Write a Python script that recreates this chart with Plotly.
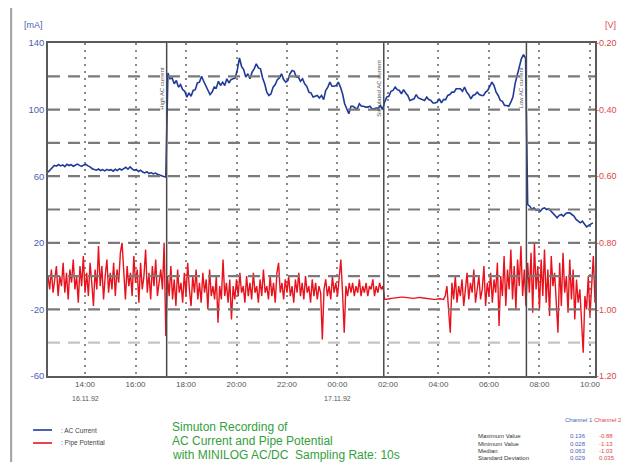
import pandas as pd
import plotly.graph_objects as go

# ---------------- data ----------------
ac_start = "1992-11-16 12:32"   # AC current samples every 5 min
ac_current = [
    62.4, 64.0, 65.5, 66.5, 66.0, 67.0, 66.2, 66.8, 65.8, 67.2,
    66.4, 66.9, 66.0, 66.6, 67.3, 66.5, 65.9, 66.8, 67.1, 66.2,
    65.6, 64.5, 64.2, 63.6, 64.3, 63.4, 64.0, 63.2, 64.1, 63.5,
    63.9, 63.0, 64.2, 63.4, 64.5, 63.7, 64.6, 65.4, 64.2, 65.6,
    64.4, 63.5, 64.1, 62.8, 63.6, 62.5, 62.0, 62.7, 61.6, 62.2,
    61.4, 61.9, 61.2, 60.6, 60.2, 59.8, 59.5,
    122, 118.5, 119, 115.5, 117.5, 113.5, 115, 112, 111, 107.5,
    110, 108, 111.5, 112, 116, 116.5, 120, 117, 114.5, 111.5,
    109, 110.5, 113.5, 113, 117, 114.5, 116.5, 114.5, 118.5, 116,
    118, 118.5, 119, 124, 131, 126, 124, 119.5, 121.5, 118.5,
    122.5, 124.5, 127.5, 125, 124.5, 119, 115.5, 110.5, 108.5, 109.5,
    113.5, 115, 118, 119, 121.5, 118, 116.5, 117.5, 121.5, 123.5,
    123, 119.5, 119.5, 117, 118.5, 115.5, 114, 110.5, 110, 107.5,
    108, 108.5, 107, 108.5, 106, 111.5, 113.5, 116.5, 114, 114,
    114.5, 116.5, 113.5, 109.5, 103.5, 100.5, 97.5, 102, 102, 101,
    100.5, 103.5, 102, 102, 101.5, 101.5, 102, 100.5, 100.5, 101,
    101, 102.5, 100,
    104.5, 107.5, 108, 111, 111.5, 113.5, 112, 111.5, 109.5, 112,
    110, 108.5, 105.5, 106, 106.5, 109, 107, 106.5, 106, 105.5,
    107.5, 106, 105.5, 104, 104, 104.5, 106.5, 104, 106, 106,
    108.5, 109, 110.5, 110.5, 112.5, 112.5, 112.5, 111, 113.5, 110.5,
    109, 106.5, 108.5, 109, 110.5, 109, 108.5, 108.5, 110.5, 111.5,
    114.5, 116.5, 114.5, 110.5, 108.5, 105.5, 105, 102.5, 102.5, 102,
    104.5, 107.5, 115.5, 120.5, 125.5, 130.5, 133,
    131, 43, 42, 40, 41, 39.5, 40, 39, 40.5, 41,
    40, 40.5, 39, 37.5, 36, 35, 36.5, 37, 36, 37.5,
    38, 38, 37, 36, 34, 33, 32, 33, 31, 29.5,
    30.5, 31.5, 32,
]

pp_start = "1992-11-16 12:32"   # pipe potential samples every 4 min
pipe_potential = [
    -0.90, -0.94, -0.88, -0.95, -0.91, -0.87, -0.96, -0.90, -0.93, -0.86,
    -0.95, -0.89, -0.97, -0.88, -0.92, -0.85, -0.94, -0.90, -0.98, -0.87,
    -0.93, -0.84, -0.95, -0.89, -0.96, -0.86, -0.92, -0.99, -0.88, -0.94,
    -0.81, -0.93, -0.87, -0.97, -0.90, -0.85, -0.95, -0.89, -0.94, -0.86,
    -0.96, -0.88, -0.92, -0.83, -0.80, -0.90, -0.97, -0.87, -0.93, -0.89,
    -0.96, -0.84, -0.92, -0.88, -0.98, -0.86, -0.94, -0.90, -0.82, -0.95,
    -0.89, -0.97, -0.87, -0.93, -0.85, -0.96, -0.91, -0.88, -0.94, -0.80,
    -1.08, -0.90, -0.96, -0.87, -0.97, -0.91, -0.99, -0.88, -0.95, -0.92,
    -0.98, -0.89, -0.96, -0.86, -0.94, -0.99, -0.90, -0.95, -0.88, -0.97,
    -0.92, -0.98, -0.89, -0.95, -0.91, -1.00, -0.88, -0.96, -0.93, -0.97,
    -0.90, -1.04, -0.93, -0.97, -0.85, -0.96, -0.92, -0.98, -0.91, -1.03,
    -0.93, -0.97, -0.91, -0.96, -0.89, -0.95, -0.93, -0.98, -0.90, -0.96,
    -0.92, -0.97, -0.89, -0.95, -0.93, -0.98, -0.91, -0.96, -0.88, -0.95,
    -0.93, -0.97, -0.90, -0.96, -0.92, -0.98, -0.89, -0.86, -0.95, -0.92,
    -0.97, -0.91, -0.95, -0.90, -0.96, -0.93, -0.98, -0.91, -0.95, -0.89,
    -0.96, -0.92, -0.97, -0.90, -0.95, -0.93, -0.98, -0.91, -0.96, -0.92,
    -0.97, -0.93, -0.95, -1.09, -0.94, -0.91, -0.96, -0.93, -0.97, -0.90,
    -0.95, -0.92, -0.96, -0.89, -0.85, -0.95, -1.07, -0.93, -0.96, -0.92,
    -0.95, -0.92, -0.96, -0.93, -0.95, -0.91, -0.96, -0.93, -0.95, -0.92,
    -0.96, -0.93, -0.94, -0.91, -0.96, -0.93, -0.95, -0.92, -0.94, -0.93,
    -0.970, -0.970, -0.968, -0.968, -0.967, -0.966, -0.965, -0.964, -0.964, -0.963,
    -0.963, -0.963, -0.964, -0.965, -0.966, -0.966, -0.967, -0.967, -0.966, -0.965,
    -0.964, -0.964, -0.965, -0.966, -0.967, -0.968, -0.968, -0.969, -0.969, -0.970,
    -0.970, -0.969, -0.968, -0.968, -0.969, -0.970,
    -0.96, -0.93, -1.00, -1.07, -0.92, -0.97, -0.90, -0.98, -0.93, -0.96,
    -0.91, -0.99, -0.94, -0.89, -0.97, -0.92, -0.95, -0.88, -0.98, -0.93,
    -0.90, -0.97, -0.94, -0.87, -0.99, -0.92, -0.96, -0.89, -0.98, -0.91,
    -0.95, -0.86, -1.05, -0.90, -0.96, -0.84, -0.99, -0.88, -0.94, -0.82,
    -0.97, -0.87, -1.00, -0.85, -0.93, -0.81, -0.96, -0.88,
    -0.99, -0.86, -0.95, -0.83, -1.01, -0.80, -0.94, -0.87, -1.00, -0.85,
    -0.96, -0.82, -0.98, -0.88, -1.02, -0.84, -0.93, -0.89, -0.97, -1.07,
    -0.86, -0.99, -0.83, -0.95, -0.90, -1.01, -0.85, -0.97, -0.88, -1.03,
    -0.91, -0.98, -0.94, -1.04, -1.13, -0.96, -1.00, -0.90, -1.02, -0.93,
    -0.84, -0.98,
]

event_times = ["1992-11-16 17:14", "1992-11-17 01:50", "1992-11-17 07:29"]
event_labels = ["High AC current", "Simulated AC current", "Low AC current"]

x_range = ["1992-11-16 12:32", "1992-11-17 10:12"]
x_tick_times = ["1992-11-16 14:00", "1992-11-16 16:00", "1992-11-16 18:00",
                "1992-11-16 20:00", "1992-11-16 22:00", "1992-11-17 00:00",
                "1992-11-17 02:00", "1992-11-17 04:00", "1992-11-17 06:00",
                "1992-11-17 08:00", "1992-11-17 10:00"]
x_tick_text = ["14:00", "16:00", "18:00", "20:00", "22:00", "00:00",
               "02:00", "04:00", "06:00", "08:00", "10:00"]
date_times = ["1992-11-16 14:00", "1992-11-17 00:00"]
date_labels = ["16.11.92", "17.11.92"]

y_left_ticks = [-60, -20, 20, 60, 100, 140]
y_left_text = ["-60", "-20", "20", "60", "100", "140"]
y_grid_vals = [-40, -20, 0, 20, 40, 60, 80, 100, 120]
y_right_ticks = [-1.2, -1.0, -0.8, -0.6, -0.4, -0.2]
y_right_text = ["-1.20", "-1.00", "-0.80", "-0.60", "-0.40", "-0.20"]

stat_names = ["Maximum Value", "Minimum Value", "Median", "Standard Deviation"]
stat_ch1 = ["0.136", "0.028", "0.063", "0.029"]
stat_ch2 = ["-0.88", "-1.13", "-1.03", "0.035"]

title_lines = ["Simuton Recording of", "AC Current and Pipe Potential",
               "with MINILOG AC/DC  Sampling Rate: 10s"]

# ---------------- figure ----------------
BLUE = "#1f3a98"
RED = "#e8121c"
OFF = 8                      # page body margin of the browser
W, H = 629 - OFF, 462 - OFF
PL, PR, PT, PB = 48, 597, 43, 376     # plot box in screen pixels
pw, ph = PR - PL, PB - PT


def px(xp):
    return (xp - PL) / pw


def py(yp):
    return (PB - yp) / ph


ac_times = pd.date_range(ac_start, periods=len(ac_current), freq="5min")
pp_times = pd.date_range(pp_start, periods=len(pipe_potential), freq="4min")

fig = go.Figure()
fig.add_trace(go.Scatter(x=pp_times, y=pipe_potential, mode="lines", yaxis="y2",
                         name=": Pipe Potential", line=dict(color=RED, width=1.4)))
fig.add_trace(go.Scatter(x=ac_times, y=ac_current, mode="lines", yaxis="y",
                         name=": AC Current", line=dict(color=BLUE, width=1.6)))

shapes = []
annotations = []


def note(x, y, text, size, color, xanchor="center", yanchor="middle", **kw):
    annotations.append(dict(x=x, y=y, xref=kw.pop("xref", "paper"), yref="paper",
                            text=text, showarrow=False, xanchor=xanchor,
                            yanchor=yanchor, font=dict(size=size, color=color), **kw))


# dashed horizontal grid, drawn over the traces as in the original print-out
for v in y_grid_vals:
    shapes.append(dict(type="line", xref="paper", yref="y", x0=0, x1=1, y0=v, y1=v,
                       line=dict(color="#c4c4c4" if v == -40 else "#7a7a7a",
                                 width=2.2, dash="12px,8px"),
                       layer="above"))

for t, lab in zip(event_times, event_labels):
    shapes.append(dict(type="line", xref="x", yref="paper", x0=t, x1=t, y0=0, y1=1,
                       line=dict(color="#4a4a4a", width=1.5), layer="above"))
    note(t, py(88), lab, 6, "#555555", xref="x", xshift=-5, textangle=-90)

for t, lab in zip(date_times, date_labels):
    note(t, py(398), lab, 7, "#555555", xref="x")

# outer frame
shapes.append(dict(type="rect", xref="paper", yref="paper", x0=px(11), x1=px(660),
                   y0=py(520), y1=py(6), line=dict(color="#a0a0a0", width=2),
                   layer="below"))

# axis unit labels
note(px(33), py(25), "[mA]", 9, "#4a5fb5")
note(px(613), py(25), "[V]", 9, "#e04848")

# legend (drawn)
for yy, col, name in [(430, BLUE, ": AC Current"), (443, RED, ": Pipe Potential")]:
    shapes.append(dict(type="line", xref="paper", yref="paper", x0=px(33), x1=px(52),
                       y0=py(yy), y1=py(yy), line=dict(color=col, width=1.6)))
    note(px(59), py(yy), name, 6.5, "#444444", xanchor="left")

# green title
for k, yy in enumerate([427, 441, 455]):
    note(px(170), py(yy), title_lines[k], 12, "#33a03c", xanchor="left")

# stats table
note(px(565), py(420), "Channel 1", 6, "#4a5fb5", xanchor="left")
note(px(594), py(420), "Channel 2", 6, "#e04848", xanchor="left")
for k, yy in enumerate([436, 443.5, 450.5, 457.5]):
    note(px(478), py(yy), stat_names[k], 6, "#333333", xanchor="left")
    note(px(570), py(yy), stat_ch1[k], 6, "#4a5fb5", xanchor="left")
    note(px(599), py(yy), stat_ch2[k], 6, "#e04848", xanchor="left")

fig.update_layout(
    width=W, height=H,
    margin=dict(l=PL - OFF, r=W - (PR - OFF), t=PT - OFF, b=H - (PB - OFF), pad=0),
    paper_bgcolor="white", plot_bgcolor="white",
    showlegend=False,
    font=dict(family="Liberation Sans, Arial, sans-serif"),
    xaxis=dict(type="date", range=x_range, tickvals=x_tick_times, ticktext=x_tick_text,
               showgrid=True, gridcolor="#8a8a8a", gridwidth=1.6, griddash="2px,5px",
               showline=True, mirror=True, linecolor="#5a5a5a", linewidth=1.5,
               ticks="", zeroline=False,
               tickfont=dict(size=8, color="#555555")),
    yaxis=dict(range=[-60, 140], tickvals=y_left_ticks, ticktext=y_left_text,
               showgrid=False,
               showline=True, mirror=True, linecolor="#5a5a5a", linewidth=1.5,
               ticks="", zeroline=False,
               tickfont=dict(size=9.5, color="#4a5fb5")),
    yaxis2=dict(range=[-1.2, -0.2], overlaying="y", side="right",
                tickvals=y_right_ticks, ticktext=y_right_text,
                showgrid=False, zeroline=False, ticks="",
                tickfont=dict(size=9, color="#e04848")),
    shapes=shapes,
    annotations=annotations,
)

fig.write_html("out.html")
